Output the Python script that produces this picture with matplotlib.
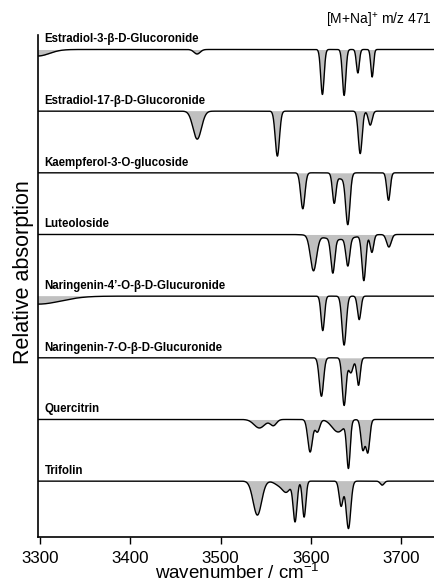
import numpy as np
import matplotlib
matplotlib.use('Agg')
import matplotlib.pyplot as plt

plt.rcParams['font.family'] = ['Liberation Sans', 'DejaVu Sans']
plt.rcParams['mathtext.fontset'] = 'custom'
plt.rcParams['mathtext.rm'] = 'Liberation Sans'

# compounds, top to bottom
names = ['Estradiol-3-β-D-Glucoronide', 'Estradiol-17-β-D-Glucoronide',
         'Kaempferol-3-O-glucoside', 'Luteoloside',
         'Naringenin-4’-O-β-D-Glucuronide', 'Naringenin-7-O-β-D-Glucuronide',
         'Quercitrin', 'Trifolin']

# band positions (cm-1), depths (relative) and FWHM (cm-1)
e3_pos = [3298, 3474, 3612.6, 3636.6, 3651.8, 3667.6]
e3_depth = [0.13, 0.09, 0.90, 0.92, 0.47, 0.55]
e3_width = [30, 8, 4.4, 4.4, 3.8, 3.5]

e17_pos = [3474.2, 3562.8, 3654.4, 3665.5]
e17_depth = [0.56, 0.90, 0.85, 0.28]
e17_width = [11, 5.5, 5, 5]

kae_pos = [3590.9, 3625.6, 3633.0, 3640.7, 3685.7]
kae_depth = [0.72, 0.57, 0.12, 1.0, 0.55]
kae_width = [5.5, 4.5, 12, 5.5, 4.5]

lut_pos = [3602.7, 3624.1, 3630.0, 3640.7, 3658.4, 3667.3, 3686.1]
lut_depth = [0.70, 0.68, 0.10, 0.55, 0.90, 0.35, 0.25]
lut_width = [8, 5, 40, 5, 5, 4.5, 6]

n4_pos = [3298, 3613.0, 3636.6, 3653.3]
n4_depth = [0.16, 0.69, 0.98, 0.47]
n4_width = [60, 4.5, 5.5, 4.5]

n7_pos = [3611.5, 3636.6, 3644.0, 3652.5]
n7_depth = [0.77, 0.95, 0.30, 0.55]
n7_width = [5.5, 5, 6, 4.5]

que_pos = [3542.9, 3558.4, 3599.0, 3607.0, 3630.0, 3641.4, 3657.3, 3662.8]
que_depth = [0.17, 0.12, 0.65, 0.25, 0.25, 0.92, 0.60, 0.65]
que_width = [14, 8, 6, 6, 16, 4.5, 5, 5]

tri_pos = [3540.7, 3565.0, 3573.0, 3582.4, 3592.4, 3633.3, 3641.4, 3678.7]
tri_depth = [0.68, 0.08, 0.20, 0.80, 0.72, 0.50, 0.95, 0.08]
tri_width = [11, 12, 10, 5, 4.5, 5, 6, 5]

bands = [(e3_pos, e3_depth, e3_width), (e17_pos, e17_depth, e17_width),
         (kae_pos, kae_depth, kae_width), (lut_pos, lut_depth, lut_width),
         (n4_pos, n4_depth, n4_width), (n7_pos, n7_depth, n7_width),
         (que_pos, que_depth, que_width), (tri_pos, tri_depth, tri_width)]

xticks = [3300, 3400, 3500, 3600, 3700]


def spectrum(x, pos, depth, width):
    y = np.zeros_like(x)
    for c, d, w in zip(pos, depth, width):
        y -= d * np.exp(-4 * np.log(2) * ((x - c) / w) ** 2)
    return y


fig = plt.figure(figsize=(4.34, 5.83), dpi=100)
ax = fig.add_axes([37.7 / 434, 46.3 / 583, 1 - 37.7 / 434, (536.7 - 35) / 583])

x = np.linspace(3297.8, 3736, 3000)
step = 1.234
for i, (name, (pos, depth, width)) in enumerate(zip(names, bands)):
    base = -i * step
    y = base + spectrum(x, pos, depth, width)
    ax.fill_between(x, base, y, where=y < base, interpolate=True,
                    color='#c0c0c0', lw=0)
    ax.plot(x, y, color='black', lw=1.0)
    ax.text(3305.5, base + 0.2, name, fontsize=8.3, fontweight='bold',
            va='center', ha='left')

ax.set_xlim(3297.8, 3736)
ax.set_ylim(-9.75, 0.29)
ax.set_xticks(xticks)
ax.set_yticks([])
ax.tick_params(axis='x', labelsize=12.2, length=5, width=1, pad=5)
for s in ['top', 'right']:
    ax.spines[s].set_visible(False)
ax.spines['left'].set_linewidth(1.2)
ax.spines['bottom'].set_linewidth(1.2)
fig.text(237 / 434, 1 - 579 / 583, 'wavenumber / cm$^{-1}$', fontsize=13.5,
         ha='center', va='baseline')
fig.text(24 / 434, 1 - 272 / 583, 'Relative absorption', fontsize=15.5,
         rotation=90, ha='center', va='center')
fig.text(432 / 434, 1 - 20 / 583, '[M+Na]$^{+}$ m/z 471', fontsize=10,
         ha='right', va='center')

fig.savefig('out.png', dpi=100)
